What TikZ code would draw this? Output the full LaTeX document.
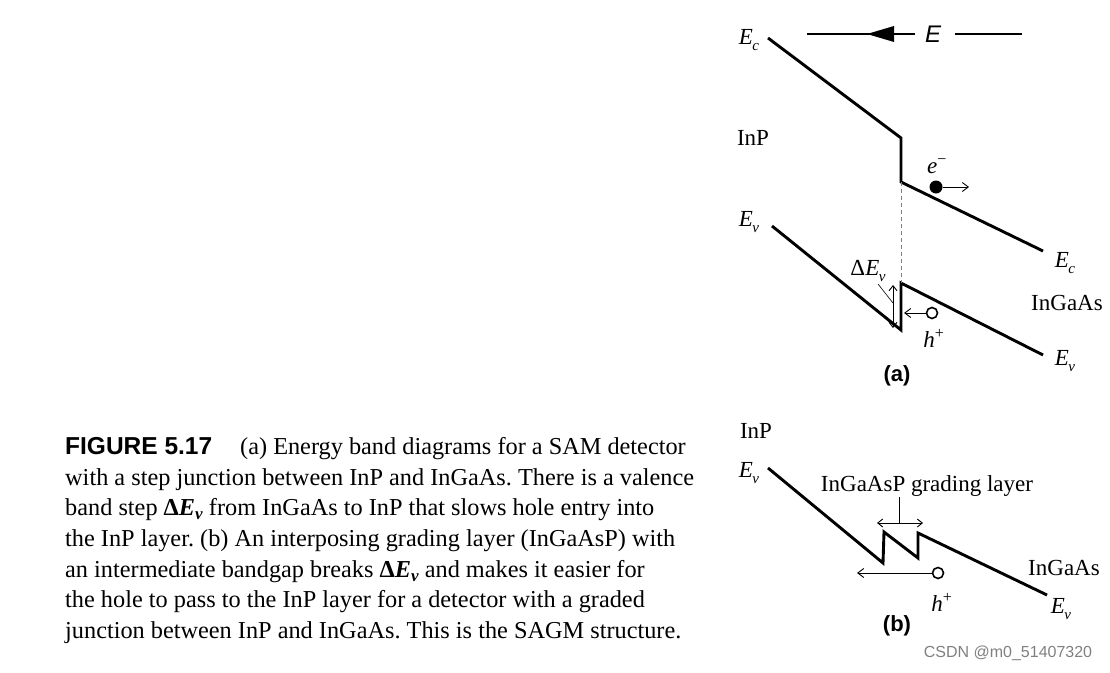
\documentclass[tikz,border=0pt]{standalone}
\usepackage{fontspec}
\setmainfont{Liberation Serif}
\setsansfont{Liberation Sans}
\usetikzlibrary{arrows.meta}
\frenchspacing
\newcommand\sub[2]{\textit{#1}\kern-0.02em\raisebox{-0.5ex}{\fontsize{15}{15}\selectfont\textit{#2}}}
\begin{document}
\begin{tikzpicture}[x=1pt,y=-1pt,
  band/.style={line width=2.9pt, line join=miter},
  thin/.style={line width=0.9pt},
  barb/.style={thin, -{Straight Barb[length=6pt,width=9pt]}},
  dbarb/.style={thin, {Straight Barb[length=5pt,width=8pt]}-{Straight Barb[length=5pt,width=8pt]}},
  lab/.style={font=\fontsize{23}{26}\selectfont, inner sep=0pt},
  panel/.style={font=\sffamily\bfseries\fontsize{22}{26}\selectfont, inner sep=0pt},
  capline/.style={font=\fontsize{24.3}{30}\selectfont, anchor=base west, inner sep=0pt},
]
\useasboundingbox (0,0) rectangle (1110,672);

% ---------- (a) ----------
\coordinate (ec1) at (768,38);
\coordinate (ec2) at (901,138);
\coordinate (ec3) at (901,182);
\coordinate (ec4) at (1043,251);
\coordinate (ev1) at (772,226);
\coordinate (ev2) at (901,330);
\coordinate (ev3) at (901,283);
\coordinate (ev4) at (1043,355);
\draw[band] (ec1) -- (ec2) -- (ec3) -- (ec4);
\draw[band] (ev1) -- (ev2) -- (ev3) -- (ev4);
\draw[thin, dash pattern=on 4pt off 3pt, gray] (ec3) -- (ev3);

% field
\coordinate (f1) at (807,34);
\coordinate (f2) at (915,34);
\coordinate (f3) at (955,34);
\coordinate (f4) at (1022,34);
\draw[line width=1.3pt] (f1) -- (f2);
\fill (867,34) -- (894,26) -- (894,42) -- cycle;
\node[font=\sffamily\itshape\fontsize{24}{26}\selectfont, inner sep=0pt] (E) at (933,34) {E};
\draw[line width=1.3pt] (f3) -- (f4);

\node[lab] (eca) at (749,40) {\sub{E}{c}};
\node[lab] (inpa) at (753,138) {InP};
\node[lab] (eva) at (749,222) {\sub{E}{v}};
\node[lab] (ecr) at (1065,263) {\sub{E}{c}};
\node[lab] (ingaasa) at (1067,303) {InGaAs};
\node[lab] (evr) at (1065,361) {\sub{E}{v}};

% electron
\node[circle, fill, inner sep=0pt, minimum size=13pt] (el) at (936,187) {};
\coordinate (elt) at (969,187);
\draw[barb] (el) -- (elt);
\node[lab] (elab) at (937,166) {\textit{e}\textsuperscript{−}};

% hole
\node[circle, draw, line width=1.6pt, inner sep=0pt, minimum size=11pt] (ho) at (932,313) {};
\coordinate (hot) at (904,313);
\draw[barb] (ho) -- (hot);
\node[lab] (hlab) at (934,338) {\textit{h}\textsuperscript{+}};

% Delta Ev
\coordinate (d1) at (893,285);
\coordinate (d2) at (893,328);
\draw[dbarb] (d1) -- (d2);
\node[lab] (dev) at (868,271) {Δ\sub{E}{v}};
\coordinate (ld1) at (878,284);
\coordinate (ld2) at (893,303);
\draw[line width=0.6pt] (ld1) -- (ld2);

\node[panel] (pa) at (897,376) {(a)};

% ---------- (b) ----------
\coordinate (b1) at (768,468);
\coordinate (b2) at (883,563);
\coordinate (b3) at (884,532);
\coordinate (b4) at (918,558);
\coordinate (b5) at (918,533);
\coordinate (b6) at (1047,595);
\draw[band] (b1) -- (b2) -- (b3) -- (b4) -- (b5) -- (b6);

\node[lab] (inpb) at (756,431) {InP};
\node[lab] (evb) at (749,473) {\sub{E}{v}};
\node[lab] (grad) at (927,486) {InGaAsP grading layer};
\coordinate (g1) at (899,497);
\coordinate (g2) at (899,523);
\draw[thin] (g1) -- (g2);
\coordinate (g3) at (877,523);
\coordinate (g4) at (923,523);
\draw[dbarb] (g3) -- (g4);

\node[circle, draw, line width=1.6pt, inner sep=0pt, minimum size=11pt] (hob) at (938,573) {};
\coordinate (hobt) at (857,573);
\draw[barb] (hob) -- (hobt);
\node[lab] (hlabb) at (942,602) {\textit{h}\textsuperscript{+}};
\node[lab] (ingaasb) at (1064,568) {InGaAs};
\node[lab] (evbr) at (1061,609) {\sub{E}{v}};
\node[panel] (pb) at (897,626) {(b)};

% ---------- caption ----------
\node[capline, font=\sffamily\bfseries\fontsize{24.5}{30}\selectfont] (fig) at (65,454) {FIGURE 5.17};
\node[capline] (c1) at (240,454) {(a) Energy band diagrams for a SAM detector};
\node[capline] (c2) at (65,485) {with a step junction between InP and InGaAs. There is a valence};
\node[capline] (c3) at (65,515) {band step \textbf{Δ\textit{E}}\raisebox{-0.4ex}{\fontsize{17}{17}\selectfont\textbf{\textit{v}}} from InGaAs to InP that slows hole entry into};
\node[capline] (c4) at (65,546) {the InP layer. (b) An interposing grading layer (InGaAsP) with};
\node[capline] (c5) at (65,577) {an intermediate bandgap breaks \textbf{Δ\textit{E}}\raisebox{-0.4ex}{\fontsize{17}{17}\selectfont\textbf{\textit{v}}} and makes it easier for};
\node[capline] (c6) at (65,607) {the hole to pass to the InP layer for a detector with a graded};
\node[capline] (c7) at (65,638) {junction between InP and InGaAs. This is the SAGM structure.};

\node[font=\sffamily\fontsize{16}{18}\selectfont, text=gray, inner sep=0pt] (wm) at (1008,653) {CSDN @m0\_51407320};
\end{tikzpicture}
\end{document}
